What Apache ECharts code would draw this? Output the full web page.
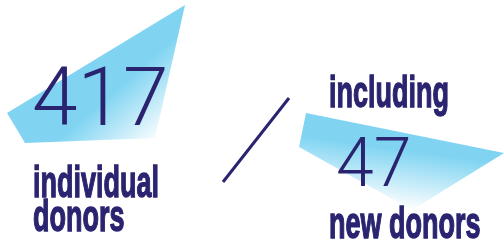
<!DOCTYPE html>
<html>
<head>
<meta charset="utf-8">
<script src="https://cdn.jsdelivr.net/npm/echarts@6/dist/echarts.min.js"></script>
<style>
  html, body { margin: 0; padding: 0; background: #fff; }
  #main { width: 504px; height: 243px; }
</style>
</head>
<body>
<div id="main"></div>
<script>
var values = [417, 47];                         // 捐赠人数
var numberLabels = ['individual', 'donors'];    // 第一个数字下方
var subLabels = ['including', 'new donors'];    // 第二个数字上下
var navy = '#2a2470';
var sky = '#80d4f2';

var myecharts = echarts.init(document.getElementById('main'));

var condensed = "bold 45px 'Liberation Sans', 'Arial', sans-serif";
var thin = "300 {size}px 'Roboto', 'Lato', 'Noto Sans', sans-serif";

function boldText(txt, x, y) {
    return {
        type: 'text', x: x, y: y, scaleX: 0.6,
        style: { text: txt, x: 0, y: 0, font: condensed, fill: navy, stroke: navy, lineWidth: 1.4,
                 textAlign: 'left', textVerticalAlign: 'middle' }
    };
}

var option = {
    backgroundColor: '#fff',
    graphic: [
        {   // 左边的蓝色块
            type: 'polygon',
            shape: { points: [[7, 113], [185, 5], [155, 138], [25, 143]] },
            style: {
                fill: new echarts.graphic.LinearGradient(118, 88, 162, 138, [
                    { offset: 0, color: sky },
                    { offset: 1, color: '#ffffff' }
                ], true)
            }
        },
        {   // 右边的蓝色块
            type: 'polygon',
            shape: { points: [[306, 113], [504, 153], [412, 210], [299, 147]] },
            style: {
                fill: new echarts.graphic.LinearGradient(402, 150, 394, 208, [
                    { offset: 0, color: sky },
                    { offset: 1, color: '#ffffff' }
                ], true)
            }
        },
        {   // 斜线
            type: 'line',
            shape: { x1: 289, y1: 98, x2: 223, y2: 182 },
            style: { stroke: navy, lineWidth: 3 }
        },
        {
            type: 'text',
            style: { text: String(values[0]), x: 32, y: 104, font: thin.replace('{size}', 82), fill: navy, textAlign: 'left', textVerticalAlign: 'middle' }
        },
        {
            type: 'text',
            style: { text: String(values[1]), x: 336, y: 169, font: thin.replace('{size}', 68), fill: navy, textAlign: 'left', textVerticalAlign: 'middle' }
        },
        boldText(numberLabels[0], 33, 185),
        boldText(numberLabels[1], 33, 219),
        boldText(subLabels[0], 329, 95),
        boldText(subLabels[1], 329, 226)
    ]
};
myecharts.setOption(option);
</script>
</body>
</html>
